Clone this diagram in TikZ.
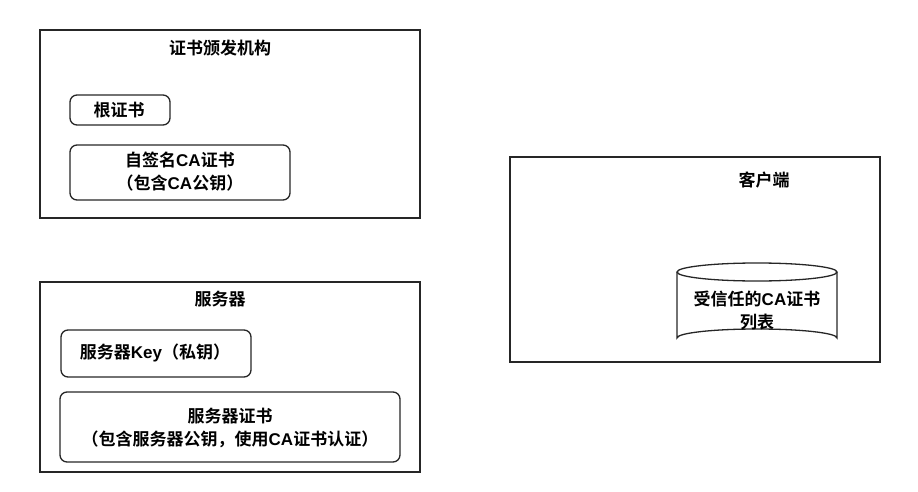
\documentclass[tikz,border=0pt]{standalone}
\usepackage{fontspec}
\newfontfamily\cjk{Noto Sans CJK SC Bold}
\newfontfamily\lat{Liberation Sans Bold}
\newcommand\la[1]{{\lat #1}}
\usetikzlibrary{shapes.geometric}
\begin{document}
\begin{tikzpicture}[x=1pt,y=-1pt,
  group/.style={draw=black!85,line width=1.6pt},
  item/.style={draw=black!85,line width=1.3pt,rounded corners=7pt},
  lbl/.style={font=\cjk\fontsize{17}{23}\selectfont,align=center,inner sep=0pt}]
\useasboundingbox (0,0) rectangle (918,492);
% CA
\draw[group] (40,30) rectangle (420,218);
\node[lbl] (catitle) at (220,48) {证书颁发机构};
\draw[item] (70,95) rectangle (170,125);
\node[lbl] (root) at (119,110) {根证书};
\draw[item] (70,145) rectangle (290,200);
\node[lbl] (self) at (180,172) {自签名\la{CA}证书\\（包含\la{CA}公钥）};
% Server
\draw[group] (40,282) rectangle (420,472);
\node[lbl] (srvtitle) at (220,299) {服务器};
\draw[item] (61,330) rectangle (251,377);
\node[lbl] (key) at (155,353) {服务器\la{Key}（私钥）};
\draw[item] (60,392) rectangle (400,462);
\node[lbl] (cert) at (230,428) {服务器证书\\（包含服务器公钥，使用\la{CA}证书认证）};
% Client
\draw[group] (510,157) rectangle (880,362);
\node[lbl] (clitle) at (764,180) {客户端};
\draw[line width=1.3pt,draw=black!85] (677,272) -- (677,338) arc[start angle=180,end angle=360,x radius=80,y radius=9] -- (837,272);
\draw[line width=1.3pt,draw=black!85] (757,272) ellipse[x radius=80,y radius=9];
\node[lbl] (list) at (757,311) {受信任的\la{CA}证书\\列表};
\end{tikzpicture}
\end{document}
